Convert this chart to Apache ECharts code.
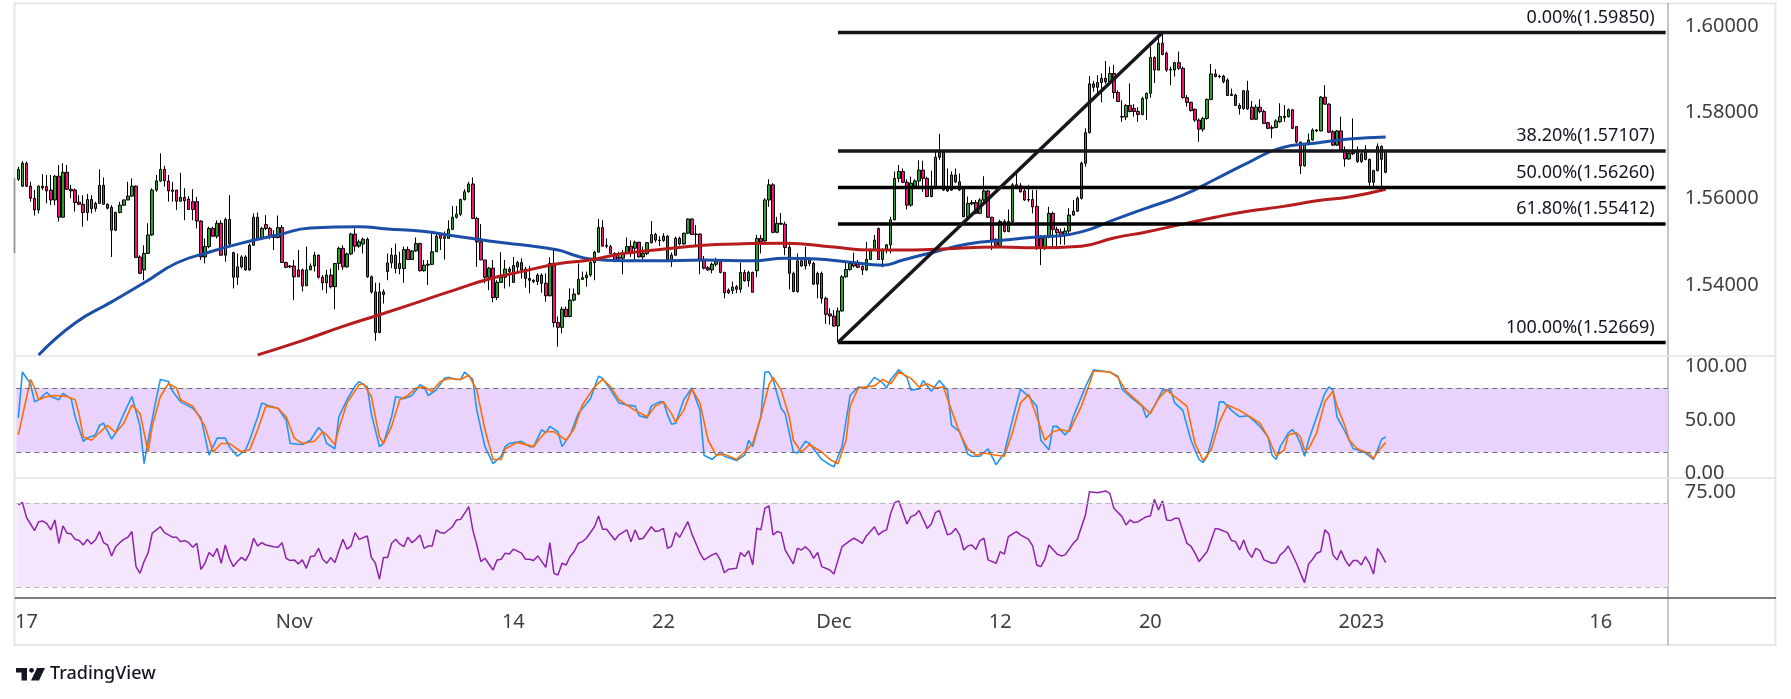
<!DOCTYPE html>
<html>
<head>
<meta charset="utf-8">
<title>Price chart with Fibonacci levels, Stochastic and RSI</title>
<script src="https://cdn.jsdelivr.net/npm/echarts@6.0.0/dist/echarts.min.js"></script>
<style>
  html, body { margin: 0; padding: 0; background: #ffffff; }
  #chart { width: 1791px; height: 699px; }
</style>
</head>
<body>
<div id="chart"></div>
<script>
// 4h bars share one category axis; future slots stay empty on the right
var slots = [];
for (var s = 0; s < 407; s++) slots.push(String(s));

var tickIndex = [2, 68, 122, 159, 201, 242, 279, 331, 390];
var tickText  = ['17', 'Nov', '14', '22', 'Dec', '12', '20', '2023', '16'];

var priceTicks = [1.54, 1.56, 1.58, 1.60];
var stochTicks = [0, 50, 100];
var rsiTicks = [75];

// [open, close, low, high]
var candles = [
  [1.5645,1.5668,1.5641,1.5674],[1.5629,1.5682,1.5627,1.5687],[1.5682,1.5629,1.5627,1.5686],[1.5629,1.5601,1.5593,1.5639],[1.5601,1.5574,1.5561,1.5620],[1.5574,1.5629,1.5566,1.5631],
  [1.5629,1.5625,1.5620,1.5657],[1.5628,1.5618,1.5589,1.5655],[1.5620,1.5597,1.5585,1.5655],[1.5597,1.5652,1.5585,1.5655],[1.5652,1.5557,1.5547,1.5678],[1.5557,1.5661,1.5557,1.5682],
  [1.5661,1.5622,1.5620,1.5678],[1.5622,1.5618,1.5601,1.5632],[1.5620,1.5591,1.5570,1.5624],[1.5592,1.5587,1.5585,1.5608],[1.5587,1.5568,1.5535,1.5608],[1.5568,1.5598,1.5549,1.5611],
  [1.5598,1.5577,1.5566,1.5608],[1.5577,1.5589,1.5570,1.5593],[1.5589,1.5631,1.5589,1.5668],[1.5631,1.5587,1.5587,1.5649],[1.5587,1.5578,1.5575,1.5589],[1.5580,1.5527,1.5465,1.5585],
  [1.5527,1.5568,1.5525,1.5570],[1.5568,1.5585,1.5566,1.5593],[1.5585,1.5597,1.5583,1.5598],[1.5597,1.5606,1.5597,1.5639],[1.5606,1.5629,1.5604,1.5647],[1.5629,1.5464,1.5462,1.5631],
  [1.5465,1.5427,1.5425,1.5469],[1.5435,1.5473,1.5411,1.5492],[1.5473,1.5516,1.5473,1.5543],[1.5516,1.5620,1.5514,1.5624],[1.5620,1.5641,1.5616,1.5655],[1.5641,1.5668,1.5639,1.5705],
  [1.5668,1.5641,1.5628,1.5676],[1.5641,1.5618,1.5593,1.5655],[1.5620,1.5617,1.5593,1.5639],[1.5620,1.5594,1.5574,1.5620],[1.5594,1.5603,1.5594,1.5660],[1.5603,1.5595,1.5550,1.5624],
  [1.5599,1.5575,1.5574,1.5606],[1.5593,1.5575,1.5550,1.5622],[1.5593,1.5548,1.5531,1.5604],[1.5548,1.5465,1.5458,1.5550],[1.5465,1.5489,1.5450,1.5508],[1.5489,1.5531,1.5485,1.5535],
  [1.5531,1.5513,1.5512,1.5535],[1.5513,1.5543,1.5508,1.5550],[1.5543,1.5469,1.5469,1.5550],[1.5469,1.5552,1.5454,1.5556],[1.5552,1.5495,1.5493,1.5608],[1.5475,1.5418,1.5392,1.5477],
  [1.5418,1.5442,1.5400,1.5473],[1.5442,1.5465,1.5438,1.5469],[1.5465,1.5435,1.5433,1.5469],[1.5435,1.5492,1.5433,1.5496],[1.5492,1.5557,1.5492,1.5566],[1.5557,1.5508,1.5506,1.5568],
  [1.5508,1.5531,1.5504,1.5535],[1.5540,1.5531,1.5527,1.5562],[1.5531,1.5514,1.5506,1.5535],[1.5516,1.5510,1.5481,1.5527],[1.5510,1.5533,1.5508,1.5561],[1.5533,1.5452,1.5452,1.5539],
  [1.5452,1.5441,1.5439,1.5454],[1.5444,1.5442,1.5439,1.5446],[1.5444,1.5419,1.5365,1.5458],[1.5435,1.5419,1.5419,1.5481],[1.5435,1.5398,1.5385,1.5438],[1.5398,1.5435,1.5398,1.5489],
  [1.5435,1.5444,1.5435,1.5450],[1.5444,1.5469,1.5431,1.5477],[1.5469,1.5418,1.5415,1.5471],[1.5418,1.5405,1.5388,1.5423],[1.5405,1.5423,1.5381,1.5435],[1.5423,1.5396,1.5392,1.5438],
  [1.5396,1.5450,1.5344,1.5450],[1.5450,1.5485,1.5435,1.5489],[1.5485,1.5442,1.5435,1.5492],[1.5442,1.5472,1.5440,1.5475],[1.5472,1.5518,1.5470,1.5521],[1.5518,1.5490,1.5477,1.5531],
  [1.5490,1.5500,1.5486,1.5505],[1.5495,1.5506,1.5473,1.5510],[1.5506,1.5419,1.5417,1.5510],[1.5419,1.5384,1.5380,1.5422],[1.5384,1.5290,1.5271,1.5405],[1.5290,1.5384,1.5288,1.5405],
  [1.5384,1.5378,1.5357,1.5390],[1.5431,1.5451,1.5411,1.5473],[1.5451,1.5469,1.5439,1.5486],[1.5469,1.5438,1.5427,1.5496],[1.5450,1.5438,1.5425,1.5477],[1.5438,1.5482,1.5405,1.5489],
  [1.5482,1.5459,1.5458,1.5489],[1.5459,1.5479,1.5458,1.5481],[1.5479,1.5496,1.5477,1.5510],[1.5496,1.5433,1.5431,1.5498],[1.5433,1.5446,1.5431,1.5458],[1.5446,1.5448,1.5400,1.5458],
  [1.5448,1.5477,1.5446,1.5523],[1.5477,1.5513,1.5477,1.5520],[1.5516,1.5508,1.5481,1.5521],[1.5508,1.5512,1.5459,1.5524],[1.5508,1.5529,1.5508,1.5550],[1.5529,1.5557,1.5527,1.5583],
  [1.5557,1.5564,1.5554,1.5583],[1.5564,1.5598,1.5560,1.5600],[1.5598,1.5616,1.5596,1.5622],[1.5616,1.5634,1.5614,1.5639],[1.5634,1.5554,1.5554,1.5649],[1.5554,1.5500,1.5442,1.5558],
  [1.5500,1.5458,1.5458,1.5541],[1.5458,1.5418,1.5404,1.5458],[1.5418,1.5439,1.5388,1.5442],[1.5439,1.5371,1.5360,1.5458],[1.5371,1.5406,1.5365,1.5411],[1.5406,1.5418,1.5406,1.5476],
  [1.5418,1.5437,1.5392,1.5458],[1.5437,1.5431,1.5396,1.5442],[1.5406,1.5445,1.5406,1.5465],[1.5442,1.5452,1.5431,1.5456],[1.5452,1.5435,1.5415,1.5462],[1.5437,1.5415,1.5394,1.5442],
  [1.5415,1.5411,1.5381,1.5444],[1.5411,1.5408,1.5404,1.5413],[1.5408,1.5423,1.5400,1.5427],[1.5423,1.5404,1.5382,1.5427],[1.5404,1.5375,1.5361,1.5427],[1.5375,1.5450,1.5374,1.5464],
  [1.5450,1.5313,1.5302,1.5485],[1.5313,1.5302,1.5257,1.5327],[1.5302,1.5344,1.5288,1.5350],[1.5344,1.5327,1.5325,1.5350],[1.5327,1.5365,1.5325,1.5392],[1.5365,1.5379,1.5362,1.5392],
  [1.5379,1.5413,1.5377,1.5450],[1.5413,1.5417,1.5413,1.5431],[1.5417,1.5423,1.5396,1.5431],[1.5423,1.5452,1.5419,1.5458],[1.5452,1.5476,1.5411,1.5479],[1.5476,1.5533,1.5476,1.5553],
  [1.5533,1.5490,1.5489,1.5550],[1.5490,1.5492,1.5485,1.5508],[1.5489,1.5473,1.5473,1.5493],[1.5473,1.5454,1.5454,1.5476],[1.5465,1.5462,1.5454,1.5477],[1.5462,1.5475,1.5425,1.5481],
  [1.5475,1.5489,1.5473,1.5510],[1.5490,1.5473,1.5465,1.5503],[1.5485,1.5499,1.5458,1.5503],[1.5499,1.5465,1.5464,1.5500],[1.5465,1.5473,1.5459,1.5489],[1.5473,1.5498,1.5469,1.5499],
  [1.5498,1.5517,1.5496,1.5548],[1.5517,1.5504,1.5499,1.5521],[1.5504,1.5503,1.5490,1.5513],[1.5503,1.5513,1.5500,1.5520],[1.5513,1.5459,1.5458,1.5516],[1.5459,1.5469,1.5442,1.5475],
  [1.5469,1.5508,1.5468,1.5512],[1.5508,1.5495,1.5492,1.5512],[1.5495,1.5520,1.5493,1.5521],[1.5520,1.5553,1.5518,1.5554],[1.5553,1.5517,1.5516,1.5554],[1.5517,1.5518,1.5489,1.5539],
  [1.5518,1.5456,1.5425,1.5520],[1.5458,1.5439,1.5436,1.5467],[1.5440,1.5435,1.5433,1.5444],[1.5435,1.5448,1.5427,1.5452],[1.5448,1.5454,1.5443,1.5463],[1.5454,1.5429,1.5427,1.5456],
  [1.5429,1.5382,1.5369,1.5431],[1.5388,1.5382,1.5379,1.5392],[1.5387,1.5395,1.5379,1.5408],[1.5396,1.5390,1.5381,1.5400],[1.5390,1.5429,1.5382,1.5452],[1.5429,1.5410,1.5408,1.5435],
  [1.5410,1.5429,1.5396,1.5433],[1.5429,1.5383,1.5383,1.5431],[1.5433,1.5508,1.5418,1.5516],[1.5508,1.5500,1.5473,1.5516],[1.5502,1.5597,1.5500,1.5601],[1.5597,1.5632,1.5581,1.5645],
  [1.5632,1.5522,1.5520,1.5636],[1.5522,1.5543,1.5520,1.5558],[1.5543,1.5541,1.5539,1.5567],[1.5541,1.5487,1.5469,1.5547],[1.5487,1.5427,1.5390,1.5500],[1.5427,1.5385,1.5383,1.5431],
  [1.5385,1.5456,1.5382,1.5473],[1.5456,1.5444,1.5442,1.5464],[1.5444,1.5462,1.5436,1.5489],[1.5462,1.5450,1.5444,1.5464],[1.5450,1.5402,1.5400,1.5454],[1.5427,1.5402,1.5369,1.5431],
  [1.5427,1.5369,1.5357,1.5431],[1.5369,1.5332,1.5310,1.5373],[1.5333,1.5328,1.5308,1.5346],[1.5328,1.5305,1.5303,1.5342],[1.5305,1.5340,1.5267,1.5348],[1.5340,1.5419,1.5338,1.5423],
  [1.5419,1.5436,1.5417,1.5454],[1.5436,1.5450,1.5433,1.5454],[1.5450,1.5444,1.5441,1.5475],[1.5448,1.5441,1.5439,1.5458],[1.5443,1.5435,1.5423,1.5446],[1.5435,1.5459,1.5433,1.5500],
  [1.5459,1.5481,1.5458,1.5485],[1.5481,1.5504,1.5480,1.5516],[1.5531,1.5459,1.5458,1.5533],[1.5459,1.5481,1.5441,1.5485],[1.5481,1.5493,1.5473,1.5495],[1.5493,1.5551,1.5473,1.5558],
  [1.5551,1.5647,1.5550,1.5663],[1.5647,1.5663,1.5638,1.5678],[1.5663,1.5638,1.5636,1.5670],[1.5638,1.5585,1.5575,1.5645],[1.5585,1.5636,1.5581,1.5651],[1.5629,1.5641,1.5628,1.5645],
  [1.5641,1.5666,1.5628,1.5689],[1.5666,1.5647,1.5616,1.5688],[1.5647,1.5605,1.5603,1.5651],[1.5605,1.5624,1.5603,1.5665],[1.5624,1.5696,1.5622,1.5711],[1.5696,1.5707,1.5690,1.5750],
  [1.5707,1.5620,1.5618,1.5713],[1.5624,1.5618,1.5616,1.5670],[1.5620,1.5655,1.5618,1.5663],[1.5655,1.5639,1.5636,1.5670],[1.5639,1.5620,1.5618,1.5658],[1.5624,1.5558,1.5557,1.5628],
  [1.5558,1.5589,1.5557,1.5605],[1.5588,1.5591,1.5585,1.5597],[1.5591,1.5566,1.5564,1.5597],[1.5566,1.5597,1.5564,1.5601],[1.5597,1.5618,1.5593,1.5652],[1.5618,1.5557,1.5555,1.5620],
  [1.5557,1.5504,1.5481,1.5558],[1.5506,1.5492,1.5489,1.5508],[1.5492,1.5547,1.5490,1.5551],[1.5547,1.5524,1.5522,1.5552],[1.5524,1.5547,1.5522,1.5575],[1.5547,1.5632,1.5543,1.5636],
  [1.5632,1.5628,1.5626,1.5663],[1.5630,1.5616,1.5614,1.5636],[1.5618,1.5597,1.5595,1.5628],[1.5598,1.5597,1.5593,1.5632],[1.5598,1.5581,1.5566,1.5620],[1.5582,1.5485,1.5481,1.5620],
  [1.5508,1.5485,1.5446,1.5516],[1.5485,1.5513,1.5481,1.5516],[1.5513,1.5566,1.5508,1.5581],[1.5566,1.5529,1.5483,1.5570],[1.5529,1.5521,1.5483,1.5535],[1.5523,1.5516,1.5494,1.5531],
  [1.5516,1.5525,1.5493,1.5533],[1.5525,1.5562,1.5519,1.5578],[1.5562,1.5571,1.5560,1.5597],[1.5571,1.5601,1.5570,1.5605],[1.5601,1.5682,1.5598,1.5686],[1.5682,1.5753,1.5674,1.5763],
  [1.5753,1.5866,1.5751,1.5884],[1.5866,1.5858,1.5848,1.5873],[1.5858,1.5869,1.5838,1.5886],[1.5869,1.5879,1.5823,1.5890],[1.5879,1.5871,1.5866,1.5919],[1.5871,1.5890,1.5863,1.5906],
  [1.5890,1.5846,1.5832,1.5910],[1.5846,1.5825,1.5825,1.5851],[1.5790,1.5789,1.5778,1.5828],[1.5789,1.5816,1.5782,1.5819],[1.5816,1.5802,1.5800,1.5867],[1.5809,1.5802,1.5790,1.5819],
  [1.5802,1.5795,1.5778,1.5812],[1.5795,1.5832,1.5793,1.5836],[1.5832,1.5844,1.5782,1.5846],[1.5844,1.5927,1.5834,1.5952],[1.5927,1.5898,1.5868,1.5930],[1.5898,1.5960,1.5897,1.5971],
  [1.5960,1.5934,1.5932,1.5985],[1.5937,1.5898,1.5894,1.5941],[1.5898,1.5900,1.5863,1.5906],[1.5898,1.5915,1.5883,1.5917],[1.5915,1.5902,1.5898,1.5941],[1.5902,1.5834,1.5832,1.5906],
  [1.5834,1.5823,1.5813,1.5840],[1.5823,1.5804,1.5802,1.5825],[1.5807,1.5782,1.5778,1.5809],[1.5782,1.5761,1.5732,1.5786],[1.5761,1.5786,1.5755,1.5790],[1.5786,1.5830,1.5783,1.5832],
  [1.5830,1.5889,1.5828,1.5912],[1.5889,1.5883,1.5881,1.5900],[1.5883,1.5884,1.5879,1.5887],[1.5884,1.5871,1.5867,1.5887],[1.5875,1.5839,1.5838,1.5879],[1.5842,1.5839,1.5838,1.5855],
  [1.5840,1.5816,1.5815,1.5843],[1.5816,1.5809,1.5795,1.5821],[1.5809,1.5850,1.5806,1.5852],[1.5850,1.5808,1.5806,1.5873],[1.5812,1.5784,1.5782,1.5826],[1.5784,1.5812,1.5782,1.5818],
  [1.5812,1.5802,1.5798,1.5830],[1.5802,1.5774,1.5773,1.5806],[1.5776,1.5763,1.5761,1.5778],[1.5763,1.5765,1.5740,1.5770],[1.5765,1.5780,1.5763,1.5784],[1.5778,1.5790,1.5776,1.5821],
  [1.5788,1.5791,1.5778,1.5817],[1.5790,1.5806,1.5788,1.5809],[1.5806,1.5763,1.5761,1.5807],[1.5767,1.5731,1.5728,1.5768],[1.5731,1.5676,1.5657,1.5732],[1.5676,1.5726,1.5674,1.5728],
  [1.5726,1.5736,1.5724,1.5751],[1.5736,1.5759,1.5734,1.5763],[1.5757,1.5759,1.5754,1.5761],[1.5757,1.5835,1.5756,1.5838],[1.5835,1.5819,1.5818,1.5863],[1.5819,1.5754,1.5752,1.5821],
  [1.5755,1.5724,1.5722,1.5759],[1.5724,1.5757,1.5722,1.5759],[1.5757,1.5713,1.5711,1.5790],[1.5713,1.5692,1.5674,1.5721],[1.5692,1.5705,1.5690,1.5709],[1.5707,1.5704,1.5701,1.5786],
  [1.5707,1.5686,1.5683,1.5721],[1.5686,1.5704,1.5683,1.5707],[1.5713,1.5691,1.5689,1.5724],[1.5691,1.5638,1.5628,1.5693],[1.5638,1.5665,1.5628,1.5667],[1.5665,1.5721,1.5663,1.5728],
  [1.5721,1.5691,1.5618,1.5724],[1.5710,1.5661,1.5659,1.5712]
];

// moving averages: [slot, price]
var maFast = [
  [5,1.5238],[14,1.5312],[23,1.5361],[31,1.5405],[39,1.5451],[47,1.5476],[55,1.5497],[64,1.5516],[72,1.5532],[84,1.5535],
  [91,1.5530],[99,1.5525],[108,1.5513],[116,1.5502],[124,1.5493],[133,1.5481],[137,1.5469],[141,1.5460],[149,1.5456],[157,1.5456],
  [169,1.5458],[181,1.5456],[189,1.5462],[197,1.5460],[205,1.5453],[213,1.5446],[218,1.5458],[226,1.5477],[234,1.5495],[243,1.5504],
  [251,1.5511],[255,1.5513],[262,1.5523],[270,1.5551],[278,1.5578],[287,1.5608],[295,1.5645],[303,1.5683],[311,1.5717],[320,1.5729],
  [328,1.5738],[337,1.5743]
];
var maSlow = [
  [59,1.5238],[70,1.5271],[80,1.5304],[90,1.5334],[100,1.5365],[108,1.5390],[116,1.5414],[124,1.5431],[133,1.5449],[141,1.5458],
  [149,1.5473],[157,1.5481],[169,1.5492],[177,1.5495],[189,1.5497],[201,1.5488],[210,1.5481],[218,1.5481],[226,1.5483],[242,1.5488],
  [251,1.5486],[262,1.5490],[270,1.5509],[278,1.5523],[287,1.5541],[295,1.5557],[303,1.5571],[311,1.5581],[320,1.5595],[328,1.5604],
  [337,1.5622]
];

var stochK = [
  [0,52],[1,95],[3,84],[4,67],[5,69],[7,76],[8,72],[10,69],[11,75],[13,70],[14,53],[16,30],[17,33],[19,36],[20,45],[21,47],[23,32],[24,38],[26,56],[28,72],
  [30,44],[31,9],[32,31],[34,70],[35,88],[37,86],[38,77],[40,67],[43,61],[45,52],[47,17],[49,33],[51,33],[52,25],[54,16],[56,22],[57,31],[59,53],[60,66],[62,63],
  [64,61],[66,50],[67,28],[70,27],[72,31],[74,43],[75,39],[76,28],[78,23],[79,53],[81,69],[83,82],[84,86],[86,81],[87,56],[89,25],[90,28],[92,53],[93,72],[95,70],
  [97,73],[99,83],[100,81],[101,73],[103,78],[105,89],[106,90],[108,88],[109,88],[110,95],[112,88],[113,59],[115,25],[117,9],[119,16],[120,25],[121,28],[124,30],[126,25],[127,25],
  [129,41],[130,38],[131,44],[133,39],[134,25],[136,36],[138,56],[141,70],[143,91],[144,89],[146,78],[148,66],[150,64],[152,63],[153,54],[155,52],[156,63],[158,67],[159,67],[160,55],
  [161,46],[162,47],[164,69],[166,80],[168,59],[169,17],[171,13],[173,20],[174,16],[177,12],[179,17],[180,31],[181,25],[183,53],[184,95],[185,95],[186,88],[188,61],[189,56],[191,20],
  [192,19],[194,30],[195,28],[196,23],[198,13],[200,8],[201,6],[203,25],[205,73],[207,81],[209,80],[211,90],[213,85],[214,80],[215,88],[217,97],[219,90],[220,78],[222,79],[223,87],
  [225,77],[227,87],[229,78],[230,45],[232,39],[234,18],[235,16],[237,16],[239,23],[241,8],[243,19],[245,50],[247,79],[249,72],[251,63],[252,31],[254,22],[255,44],[256,44],[258,36],
  [259,41],[260,53],[263,81],[265,97],[267,96],[269,95],[271,91],[272,79],[274,72],[277,63],[278,52],[280,63],[282,78],[284,78],[285,66],[287,59],[289,31],[291,13],[292,10],[293,16],
  [295,44],[296,67],[297,67],[299,59],[301,53],[303,54],[304,51],[306,44],[308,34],[309,17],[310,13],[311,25],[313,38],[314,41],[315,36],[316,28],[317,16],[318,31],[320,53],[322,75],
  [323,81],[324,78],[325,53],[327,39],[329,23],[330,22],[332,19],[333,16],[334,13],[335,22],[336,32],[337,34]
];
var stochD = [
  [0,36],[3,88],[4,80],[5,69],[7,72],[9,73],[12,72],[14,69],[15,55],[16,34],[18,31],[20,38],[22,45],[24,38],[26,47],[28,64],[30,56],[32,20],[33,44],[35,72],
  [37,84],[39,80],[40,69],[43,63],[46,44],[48,20],[50,28],[52,28],[55,20],[57,22],[59,41],[61,63],[64,61],[66,53],[68,33],[70,28],[73,30],[75,39],[76,36],[78,27],
  [79,42],[81,66],[84,83],[85,84],[87,72],[89,34],[90,28],[92,44],[94,69],[96,73],[98,80],[100,81],[102,77],[104,86],[106,89],[109,88],[111,92],[113,78],[115,41],[117,13],
  [119,13],[120,23],[123,29],[127,25],[128,30],[130,39],[132,39],[135,31],[137,42],[139,64],[142,81],[144,88],[146,81],[148,69],[150,64],[152,59],[155,53],[157,63],[159,67],[161,56],
  [162,48],[164,59],[166,79],[168,66],[170,31],[172,17],[174,18],[177,13],[179,20],[181,28],[183,53],[185,83],[186,90],[188,78],[190,53],[191,31],[193,20],[195,27],[198,20],[200,13],
  [202,9],[204,31],[205,63],[207,80],[211,82],[213,88],[215,84],[217,95],[220,89],[222,81],[224,84],[226,80],[228,81],[230,59],[232,38],[234,23],[236,17],[238,19],[241,17],[243,16],
  [245,38],[247,66],[249,74],[251,53],[253,31],[255,39],[257,41],[259,39],[262,63],[264,84],[265,96],[269,95],[271,90],[273,77],[276,67],[279,56],[281,70],[283,78],[285,72],[288,63],
  [290,28],[292,12],[294,22],[296,48],[298,64],[301,59],[304,52],[306,47],[308,34],[310,16],[312,22],[313,36],[315,38],[316,34],[317,22],[318,23],[320,38],[322,67],[324,77],[325,63],
  [327,44],[328,31],[330,23],[332,20],[333,18],[334,14],[335,20],[337,29]
];

var rsi = [
  [0,69.1],[1,70.3],[2,63.2],[3,60.0],[4,56.8],[5,61.1],[6,61.4],[7,60.3],[8,57.2],[9,61.9],
  [10,50.8],[11,59.1],[12,55.6],[13,55.3],[14,52.7],[15,52.1],[16,50.0],[17,52.7],[18,50.5],[19,52.4],
  [20,56.4],[21,51.1],[22,50.0],[23,44.8],[24,49.2],[25,51.1],[26,52.7],[27,53.7],[28,56.4],[29,39.7],
  [30,36.5],[31,42.1],[32,46.4],[33,55.6],[34,57.2],[35,58.7],[36,55.9],[38,53.7],[39,53.7],[40,51.6],
  [41,52.1],[42,51.1],[43,48.9],[44,50.8],[45,38.4],[46,41.3],[47,46.4],[48,44.5],[49,48.4],[50,41.3],
  [51,50.0],[52,43.7],[53,39.7],[54,42.1],[55,44.1],[56,42.6],[57,46.1],[58,53.2],[59,49.5],[60,51.1],
  [61,50.0],[63,49.2],[64,48.9],[65,51.1],[66,43.7],[67,42.6],[68,42.9],[69,41.0],[70,42.9],[71,38.9],
  [72,44.5],[73,44.8],[74,48.4],[75,43.2],[76,41.3],[77,44.0],[78,41.6],[79,47.3],[80,52.7],[81,48.0],
  [82,49.5],[83,55.9],[84,52.7],[86,54.3],[87,44.1],[88,41.3],[89,33.7],[90,44.1],[91,44.0],[92,50.8],
  [93,52.7],[94,50.5],[95,49.2],[96,53.7],[97,51.1],[98,52.7],[99,54.8],[100,48.4],[101,49.5],[102,49.5],
  [103,57.2],[104,55.9],[105,55.6],[107,58.7],[108,61.9],[109,62.2],[110,65.1],[111,68.3],[112,57.2],[113,50.0],
  [114,42.1],[115,43.7],[117,38.1],[118,42.9],[119,43.2],[120,46.1],[121,45.7],[122,48.0],[124,46.1],[125,43.2],
  [126,43.2],[127,42.6],[128,44.8],[130,39.4],[131,51.1],[132,36.5],[133,35.7],[134,41.3],[135,40.5],[136,44.5],
  [137,46.9],[138,50.8],[139,51.6],[140,53.2],[142,58.7],[143,63.8],[144,57.5],[145,57.5],[147,52.4],[148,54.8],
  [150,57.2],[151,51.6],[152,57.2],[153,52.7],[154,53.2],[156,58.7],[157,56.4],[158,56.8],[159,57.9],[160,48.4],
  [161,49.5],[162,55.9],[163,53.7],[165,61.1],[166,55.3],[168,46.1],[169,42.9],[171,45.3],[172,46.1],[173,42.9],
  [174,36.8],[175,38.4],[177,38.9],[178,46.4],[179,44.5],[180,47.3],[181,40.5],[182,58.0],[183,57.2],[184,67.5],
  [185,68.6],[186,54.8],[187,56.4],[188,55.9],[189,47.6],[191,41.0],[192,48.4],[193,47.6],[194,49.2],[195,47.3],
  [196,43.7],[197,46.4],[198,39.7],[200,38.1],[201,36.2],[203,49.2],[205,52.1],[206,53.2],[207,52.1],[208,50.8],
  [209,54.3],[210,56.4],[211,58.7],[212,54.8],[213,56.4],[214,57.2],[215,65.1],[216,70.2],[217,71.0],[219,60.0],
  [220,63.5],[221,64.3],[222,66.4],[224,57.9],[225,60.0],[226,65.4],[227,66.4],[229,54.8],[230,55.6],[231,57.9],
  [232,54.8],[233,47.6],[234,49.5],[235,50.0],[236,47.9],[237,52.1],[238,53.2],[239,42.9],[241,41.3],[242,46.9],
  [243,45.6],[244,54.0],[246,56.4],[247,54.8],[249,52.7],[250,49.5],[251,40.5],[252,39.7],[253,43.2],[254,50.0],
  [256,45.7],[257,44.8],[258,45.3],[260,50.8],[261,52.7],[263,64.3],[264,75.4],[266,74.9],[268,75.7],[269,74.6],
  [270,67.5],[272,63.5],[273,59.5],[274,61.9],[275,60.7],[276,61.1],[278,63.5],[279,63.8],[280,71.8],[281,66.7],
  [282,71.0],[283,61.9],[284,61.6],[285,62.7],[286,62.7],[288,50.8],[289,49.5],[290,46.1],[291,42.1],[293,46.9],
  [294,52.4],[295,57.9],[296,57.5],[298,55.9],[299,52.1],[300,51.6],[301,47.6],[302,52.4],[303,46.9],[304,44.1],
  [305,48.4],[306,47.3],[307,42.9],[309,41.3],[310,41.6],[311,45.3],[312,46.9],[313,49.5],[315,41.3],[316,36.5],
  [317,32.1],[318,41.0],[319,43.2],[320,46.1],[321,46.9],[322,57.2],[323,55.3],[324,45.3],[325,42.9],[326,47.3],
  [327,42.9],[328,40.0],[329,42.6],[330,42.6],[331,40.5],[332,44.5],[333,41.3],[334,36.2],[335,48.4],[336,45.3],
  [337,41.6]
];

// Fibonacci retracement, from the Dec low to the Dec high
var fibLevels = [0, 38.2, 50, 61.8, 100];
var fibPrices = [1.59850, 1.57107, 1.56260, 1.55412, 1.52669];
var fibFrom = 202;
var fibTo = 282;

var FONT = '"Noto Sans", "DejaVu Sans", sans-serif';
var AXIS_TEXT = '#3d3f45';
var fibColors = ['#15171c', '#15171c', '#000000', '#000000', '#000000'];

var chart = echarts.init(document.getElementById('chart'));

function hiddenX(g) {
  return {
    type: 'category', gridIndex: g, data: slots, boundaryGap: true, show: false,
    axisLine: {show: false}, axisTick: {show: false}, axisLabel: {show: false}, splitLine: {show: false}
  };
}

function rightY(g, min, max, ticks, digits) {
  return {
    type: 'value', gridIndex: g, position: 'right', min: min, max: max,
    splitLine: {show: false}, axisLine: {show: false}, axisTick: {show: false},
    axisLabel: {
      customValues: ticks, margin: 17, color: AXIS_TEXT, fontSize: 20, fontFamily: FONT,
      formatter: function (v) { return v.toFixed(digits); }
    }
  };
}

function drawnLine(name, points, color, width) {
  return {
    name: name, type: 'line', xAxisIndex: 0, yAxisIndex: 0, data: points,
    showSymbol: false, silent: true, z: 4,
    lineStyle: {color: color, width: width, type: 'solid', cap: 'butt', opacity: 1}
  };
}

var series = [
  {
    name: 'Price', type: 'candlestick', xAxisIndex: 0, yAxisIndex: 0,
    data: candles, barWidth: 3,
    itemStyle: {
      color: '#2ba12b', color0: '#f2147c',
      borderColor: '#000000', borderColor0: '#000000', borderColorDoji: '#000000',
      borderWidth: 1
    }
  },
  {
    name: 'MA fast', type: 'line', xAxisIndex: 0, yAxisIndex: 0, data: maFast,
    smooth: true, showSymbol: false, lineStyle: {color: '#1b4ea6', width: 3}
  },
  {
    name: 'MA slow', type: 'line', xAxisIndex: 0, yAxisIndex: 0, data: maSlow,
    smooth: true, showSymbol: false, lineStyle: {color: '#b71c1c', width: 3}
  },
  {
    name: '%K', type: 'line', xAxisIndex: 1, yAxisIndex: 1, data: stochK,
    showSymbol: false, lineStyle: {color: '#2196f3', width: 1.6},
    markArea: {silent: true, itemStyle: {color: '#e9d2fb'}, data: [[{yAxis: 20}, {yAxis: 80}]]},
    markLine: {
      silent: true, symbol: ['none', 'none'], label: {show: false},
      lineStyle: {color: '#6a6d78', width: 1, type: [5, 4]},
      data: [{yAxis: 80}, {yAxis: 20}]
    }
  },
  {
    name: '%D', type: 'line', xAxisIndex: 1, yAxisIndex: 1, data: stochD,
    showSymbol: false, lineStyle: {color: '#ff6d00', width: 1.6}
  },
  {
    name: 'RSI', type: 'line', xAxisIndex: 2, yAxisIndex: 2, data: rsi,
    showSymbol: false, lineStyle: {color: '#8e24aa', width: 1.5},
    markArea: {silent: true, itemStyle: {color: '#f3e6fd'}, data: [[{yAxis: 30}, {yAxis: 70}]]},
    markLine: {
      silent: true, symbol: ['none', 'none'], label: {show: false},
      lineStyle: {color: '#b2b5be', width: 1, type: [5, 4]},
      data: [{yAxis: 70}, {yAxis: 30}]
    }
  }
];

// retracement levels and the swing line, drawn through the price scale
fibPrices.forEach(function (p, k) {
  series.push(drawnLine('Fib ' + fibLevels[k], [[fibFrom, p], [slots.length - 1, p]], fibColors[k], 3.5));
});
series.push(drawnLine('Swing', [[fibFrom, fibPrices[fibPrices.length - 1]], [fibTo, fibPrices[0]]], '#15171c', 3.5));

var option = {
  animation: false,
  backgroundColor: '#ffffff',
  grid: [
    {left: 16.3, top: 4, width: 1651.4, height: 352},
    {left: 16.3, top: 356, width: 1651.4, height: 122},
    {left: 16.3, top: 478, width: 1651.4, height: 120}
  ],
  xAxis: [
    hiddenX(0),
    hiddenX(1),
    {
      type: 'category', gridIndex: 2, data: slots, boundaryGap: true,
      axisLine: {show: false}, axisTick: {show: false}, splitLine: {show: false},
      axisLabel: {
        margin: 14, color: AXIS_TEXT, fontSize: 20, fontFamily: FONT,
        interval: function (index) { return tickIndex.indexOf(index) !== -1; },
        formatter: function (value) {
          var k = tickIndex.indexOf(Number(value));
          return k === -1 ? '' : tickText[k];
        }
      }
    }
  ],
  yAxis: [
    rightY(0, 1.52355, 1.6051, priceTicks, 5),
    rightY(1, -4.4, 110, stochTicks, 2),
    rightY(2, 24.76, 81.9, rsiTicks, 2)
  ],
  series: series
};

chart.setOption(option);

// pane frame, separators, fib level captions and watermark
var gfx = [
  {type: 'rect', silent: true, shape: {x: 14.5, y: 3.5, width: 1761, height: 641.5},
   style: {fill: 'none', stroke: '#e4e6eb', lineWidth: 2}},
  {type: 'line', silent: true, shape: {x1: 1668, y1: 3, x2: 1668, y2: 645},
   style: {stroke: '#8a8d96', lineWidth: 1}},
  {type: 'line', silent: true, shape: {x1: 14.5, y1: 356, x2: 1776, y2: 356},
   style: {stroke: '#e0e3eb', lineWidth: 1.5}},
  {type: 'line', silent: true, shape: {x1: 14.5, y1: 478, x2: 1776, y2: 478},
   style: {stroke: '#e0e3eb', lineWidth: 1.5}},
  {type: 'line', silent: true, shape: {x1: 14.5, y1: 598, x2: 1776, y2: 598},
   style: {stroke: '#50535e', lineWidth: 1.5}},
  {type: 'line', silent: true, shape: {x1: 14.5, y1: 178, x2: 14.5, y2: 253},
   style: {stroke: '#8a8d96', lineWidth: 1.5}},
  {type: 'rect', silent: true, shape: {x: 16, y: 668, width: 11, height: 4.5}, style: {fill: '#131722'}},
  {type: 'rect', silent: true, shape: {x: 21.5, y: 668, width: 5.5, height: 12.5}, style: {fill: '#131722'}},
  {type: 'circle', silent: true, shape: {cx: 31.5, cy: 670.3, r: 2.4}, style: {fill: '#131722'}},
  {type: 'polygon', silent: true, shape: {points: [[37, 668], [45, 668], [39, 680.5], [31, 680.5]]}, style: {fill: '#131722'}},
  {type: 'text', silent: true, x: 50, y: 674,
   style: {text: 'TradingView', fill: '#131722', font: '500 18px ' + FONT,
           textAlign: 'left', textVerticalAlign: 'middle', align: 'left', verticalAlign: 'middle'}}
];

fibPrices.forEach(function (p, k) {
  var pt = chart.convertToPixel({xAxisIndex: 0, yAxisIndex: 0}, [slots.length - 1, p]);
  gfx.push({
    type: 'text', silent: true, x: pt[0] - 11, y: pt[1] - 15,
    style: {
      text: fibLevels[k].toFixed(2) + '%(' + p.toFixed(5) + ')',
      fill: '#131722', font: '18px ' + FONT,
      textAlign: 'right', textVerticalAlign: 'middle', align: 'right', verticalAlign: 'middle'
    }
  });
});

chart.setOption({graphic: {elements: gfx}});
</script>
</body>
</html>
